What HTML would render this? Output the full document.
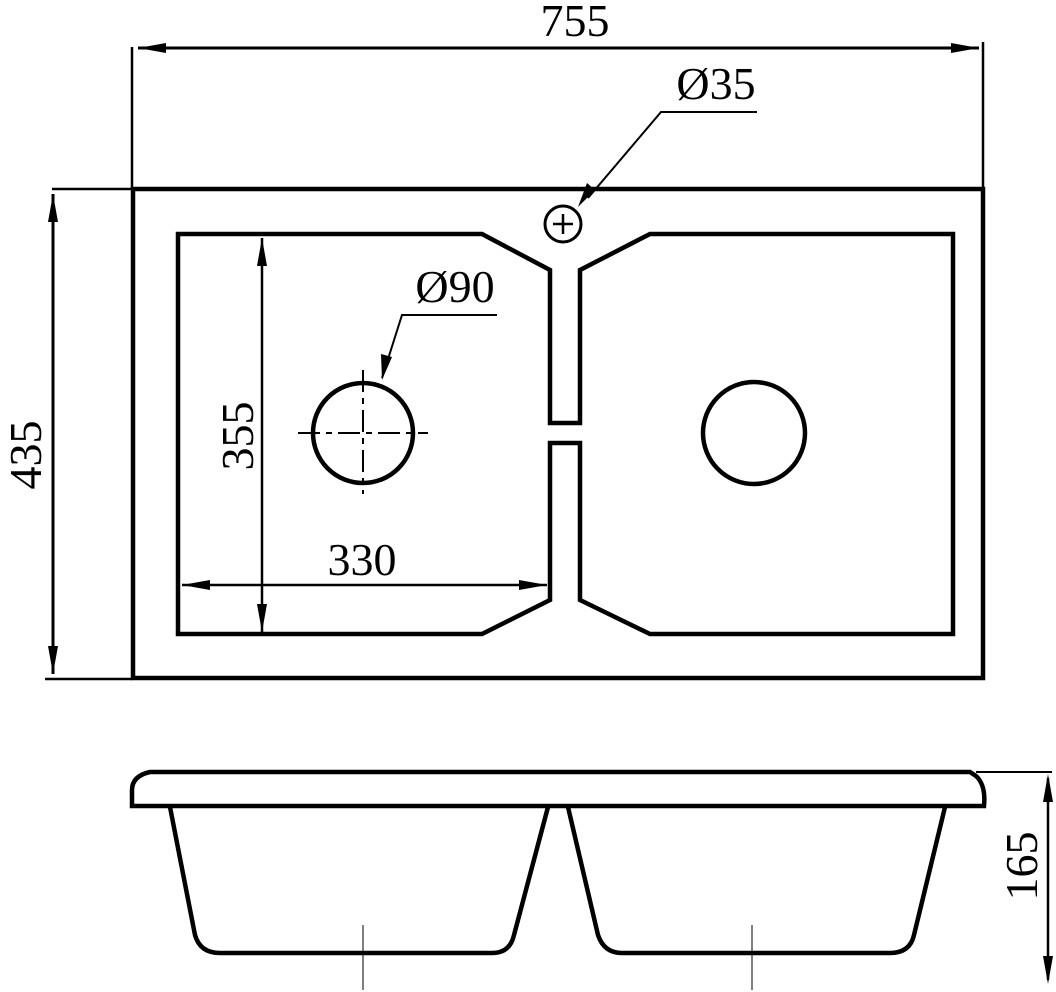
<!DOCTYPE html>
<html><head><style>html,body{margin:0;padding:0;background:#fff}svg{display:block}</style></head>
<body>
<svg width="1056" height="992" viewBox="0 0 1056 992" xmlns="http://www.w3.org/2000/svg" font-family="Liberation Serif, serif">
<g fill="none" stroke="#000" stroke-linejoin="miter">
<rect x="133" y="189" width="850" height="489" stroke-width="4.5"/>
<path d="M178,234 L482,234 L550,270 L550,423 L580,423 L580,270 L650,234 L953,234 L953,634 L650,634 L580,600 L580,443 L550,443 L550,600 L482,634 L178,634 Z" stroke-width="4.5"/>
<circle cx="563" cy="224" r="18" stroke-width="3"/>
<line x1="553" y1="224" x2="573" y2="224" stroke-width="2.5"/>
<line x1="563" y1="214" x2="563" y2="234" stroke-width="2.5"/>
<polyline points="588,198 661,112 757,112" stroke-width="2"/>
<circle cx="363" cy="433" r="50" stroke-width="4.5"/>
<circle cx="754" cy="433" r="51" stroke-width="4.5"/>
<line x1="298" y1="433" x2="428" y2="433" stroke-width="2" stroke-dasharray="22,6,6,6"/>
<line x1="363" y1="370" x2="363" y2="494" stroke-width="2" stroke-dasharray="22,6,6,6"/>
<polyline points="382,378 402,315 497,315" stroke-width="2"/>
<line x1="262" y1="238" x2="262" y2="632" stroke-width="2.5"/>
<line x1="182" y1="585" x2="547" y2="585" stroke-width="2.5"/>
<line x1="138" y1="48" x2="979" y2="48" stroke-width="3"/>
<line x1="132" y1="47" x2="132" y2="188" stroke-width="2.5"/>
<line x1="983" y1="42" x2="983" y2="188" stroke-width="2.5"/>
<line x1="52" y1="189" x2="132" y2="189" stroke-width="2.5"/>
<line x1="45" y1="679" x2="132" y2="679" stroke-width="2.5"/>
<line x1="53" y1="194" x2="53" y2="674" stroke-width="3"/>
<path d="M132,806 L984,806 Q986,785 976,776 L970,772 L150,772 Q132,776 132,790 Z" stroke-width="4.5"/>
<path d="M170,807 L195,935 Q200,953 220,953 L492,953 Q510,953 514,935 L548,807" stroke-width="4.5"/>
<path d="M568,807 L598,935 Q604,953 622,953 L890,953 Q910,953 914,935 L945,807" stroke-width="4.5"/>
<line x1="363" y1="925" x2="363" y2="990" stroke-width="1"/>
<line x1="752" y1="925" x2="752" y2="990" stroke-width="1"/>
<line x1="976" y1="772" x2="1052" y2="772" stroke-width="2"/>
<line x1="1048" y1="778" x2="1048" y2="980" stroke-width="2.5"/>
</g>
<g fill="#000">
<polygon points="138,48 166,43 166,53"/>
<polygon points="979,48 951,43 951,53"/>
<polygon points="53,194 48,222 58,222"/>
<polygon points="53,674 48,646 58,646"/>
<polygon points="262,238 257,266 267,266"/>
<polygon points="262,632 257,604 267,604"/>
<polygon points="182,585 210,580 210,590"/>
<polygon points="547,585 519,580 519,590"/>
<polygon points="578,207 587,183 595,190"/>
<polygon points="382,380 381,354 392,357"/>
<polygon points="1048,774 1043,802 1053,802"/>
<polygon points="1048,984 1043,956 1053,956"/>
</g>
<g font-size="46" fill="#000">
<text x="575" y="36" text-anchor="middle">755</text>
<text x="716" y="99" text-anchor="middle">Ø35</text>
<text x="455" y="302" text-anchor="middle">Ø90</text>
<text x="362" y="575" text-anchor="middle">330</text>
<text transform="translate(253,436) rotate(-90)" text-anchor="middle">355</text>
<text transform="translate(41,455) rotate(-90)" text-anchor="middle">435</text>
<text transform="translate(1037,866) rotate(-90)" text-anchor="middle">165</text>
</g>
</svg>
</body></html>
